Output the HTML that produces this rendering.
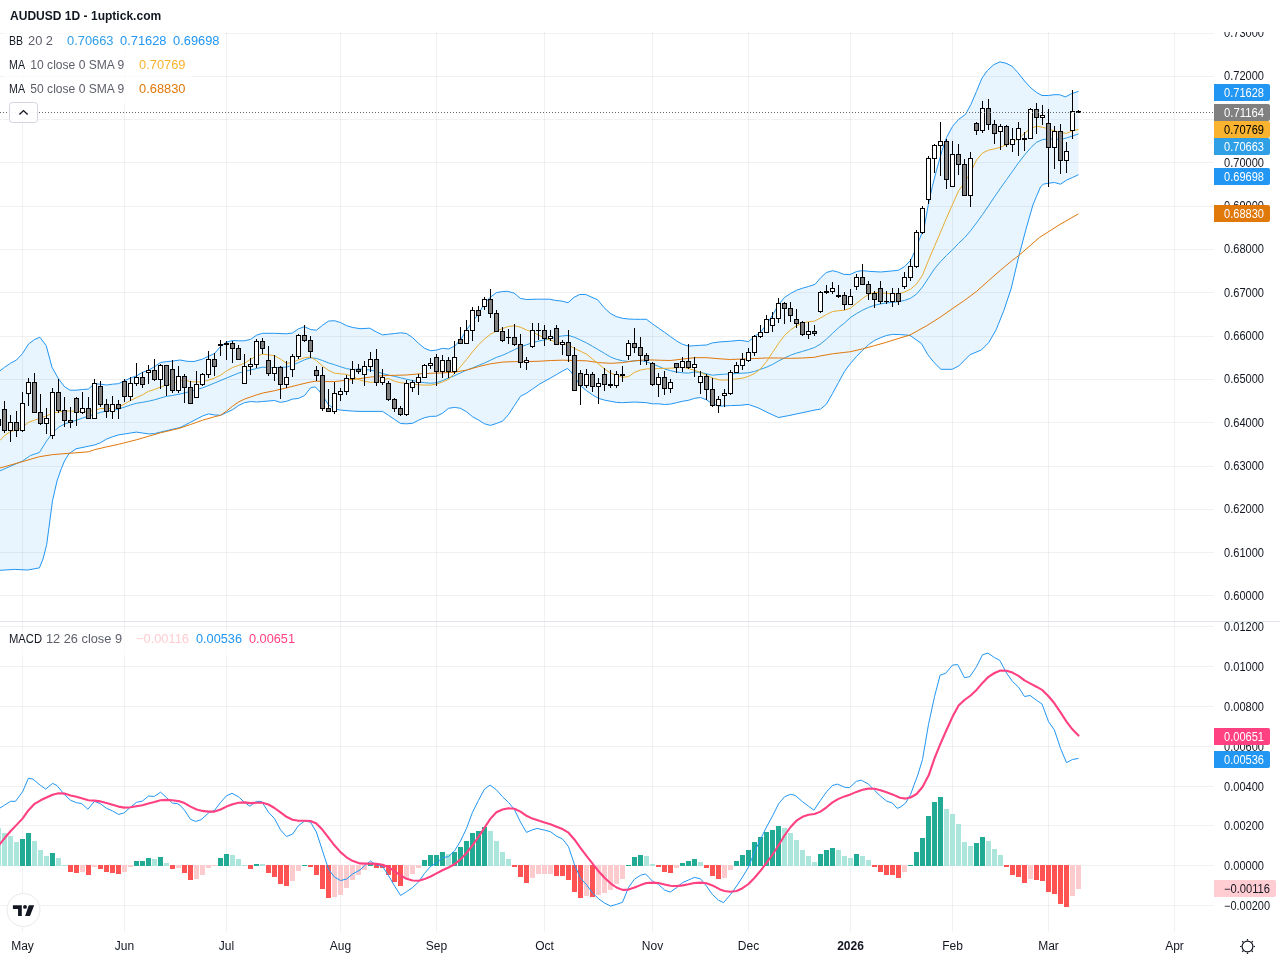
<!DOCTYPE html>
<html lang="en"><head><meta charset="utf-8"><title>AUDUSD 1D - 1uptick.com</title>
<style>html,body{margin:0;padding:0;background:#fff;overflow:hidden}svg{display:block}</style>
</head><body>
<svg width="1280" height="960" viewBox="0 0 1280 960" font-family='"Liberation Sans", sans-serif' font-size="12" fill="#131722">
<rect width="1280" height="960" fill="#fff"/>
<defs><clipPath id="cm"><rect x="0" y="32" width="1214" height="589"/></clipPath><clipPath id="cd"><rect x="0" y="622" width="1214" height="310"/></clipPath><clipPath id="ca"><rect x="1214" y="32" width="66" height="589"/></clipPath><clipPath id="cb"><rect x="1214" y="622" width="66" height="310"/></clipPath></defs>
<path d="M22.5 32V932M124.5 32V932M226.5 32V932M340.5 32V932M436.5 32V932M544.5 32V932M652.5 32V932M748.5 32V932M850.5 32V932M952.5 32V932M1048.5 32V932M1174.5 32V932" stroke="#2a2e39" stroke-opacity="0.065" stroke-width="1" fill="none" shape-rendering="crispEdges"/>
<path d="M0 33.5H1214M0 76.5H1214M0 119.5H1214M0 162.5H1214M0 206.5H1214M0 249.5H1214M0 292.5H1214M0 336.5H1214M0 379.5H1214M0 422.5H1214M0 466.5H1214M0 509.5H1214M0 552.5H1214M0 595.5H1214M0 626.5H1214M0 666.5H1214M0 706.5H1214M0 746.5H1214M0 786.5H1214M0 825.5H1214M0 865.5H1214M0 905.5H1214" stroke="#2a2e39" stroke-opacity="0.065" stroke-width="1" fill="none" shape-rendering="crispEdges"/>
<path d="M0 621.5H1280" stroke="#e0e3eb" stroke-width="1" shape-rendering="crispEdges"/>
<g clip-path="url(#cm)">
<path d="M-1.5 372.0L4.5 367.3L10.5 363.2L16.5 360.0L22.5 353.5L28.5 344.0L34.5 339.6L39.8 337.2L46.2 345.6L52.0 367.3L58.5 378.8L64.7 386.9L70.0 390.2L76.0 390.2L82.5 389.5L88.3 389.1L93.0 385.0L96.6 383.9L100.8 384.2L106.5 385.0L112.5 384.2L118.5 383.7L124.5 380.8L130.5 378.0L136.4 375.9L142.5 372.3L148.5 370.2L154.4 366.7L160.5 362.5L166.5 361.6L172.4 361.1L180.0 360.0L187.0 361.3L194.0 361.5L202.5 359.1L208.5 356.3L214.6 353.4L220.6 346.4L226.5 342.2L232.6 340.5L238.6 340.8L244.5 340.8L250.6 339.4L256.5 335.2L262.5 333.3L274.5 333.3L286.5 333.8L292.5 333.0L298.5 328.8L304.5 326.7L310.5 329.5L316.4 330.2L322.5 325.3L328.5 321.1L334.4 320.7L340.5 322.5L346.5 325.7L352.4 327.4L360.0 328.7L369.8 328.2L376.6 332.1L382.5 334.9L388.5 334.2L394.6 333.5L400.6 332.8L406.5 333.5L412.6 337.7L418.6 343.4L424.5 348.3L430.6 350.7L436.5 350.1L442.5 348.3L448.5 349.0L454.5 346.2L460.5 339.8L466.5 330.0L472.5 321.6L478.5 313.8L484.5 303.3L490.5 297.0L496.4 292.7L502.5 291.5L507.5 291.3L514.1 293.1L520.2 298.3L526.3 299.5L537.5 299.2L549.7 299.2L555.3 300.4L561.9 301.1L568.0 302.7L574.1 297.3L579.7 294.5L585.8 294.5L591.9 297.3L597.5 299.7L604.1 307.7L610.2 313.3L616.3 316.6L622.5 318.3L628.5 319.0L634.5 319.3L640.5 319.3L646.5 319.3L652.5 323.9L658.5 328.1L664.5 332.3L670.5 336.6L676.4 340.8L682.5 344.3L688.5 346.1L694.4 345.7L700.5 345.3L706.5 345.0L712.4 342.9L720.0 341.9L730.5 341.2L740.0 340.3L748.4 341.6L754.6 336.5L760.6 332.0L766.5 324.5L772.6 315.0L778.6 304.5L784.5 297.5L790.6 293.4L796.5 290.3L802.5 288.2L808.5 286.5L815.0 284.4L820.6 277.8L826.3 272.5L832.8 270.7L838.4 272.2L843.5 274.3L849.8 274.6L856.6 271.5L862.5 270.6L868.5 271.3L880.6 272.0L892.6 270.9L898.6 270.2L904.5 266.6L910.6 260.3L914.5 251.9L919.5 239.2L924.4 226.6L928.3 204.5L932.3 186.7L936.6 169.8L942.2 150.2L946.5 137.5L952.6 126.3L958.6 119.4L965.5 114.4L970.9 104.5L976.4 91.6L981.9 78.3L987.3 70.6L993.9 64.6L999.9 61.9L1005.9 63.2L1012.0 66.2L1018.0 72.8L1024.5 81.0L1031.1 88.1L1036.6 92.5L1042.0 95.5L1048.6 95.5L1054.1 94.7L1059.5 94.7L1065.5 96.9L1071.6 93.6L1078.5 91.4L1078.5 174.7L1072.4 177.6L1066.5 180.1L1060.5 184.2L1054.4 182.5L1048.5 183.2L1043.4 184.2L1040.6 186.7L1036.4 196.6L1032.9 205.0L1026.3 228.1L1018.8 256.3L1011.3 288.1L1003.8 310.6L996.3 329.4L988.8 342.5L981.3 350.0L970.0 354.7L958.8 365.9L952.2 369.3L940.9 369.3L934.0 362.5L927.8 354.7L921.3 343.4L910.0 335.4L900.6 334.6L892.4 334.4L886.5 335.5L880.5 337.7L874.4 340.5L868.5 344.7L862.5 350.3L856.4 356.6L850.5 363.4L844.5 371.4L838.5 382.5L832.5 393.5L826.4 404.2L820.6 409.1L815.0 410.0L801.9 412.8L788.8 415.6L778.4 417.5L768.1 412.8L758.8 408.1L748.4 404.4L740.0 405.3L730.5 405.6L720.0 406.1L712.4 404.1L706.5 399.8L700.5 397.5L694.4 398.4L688.5 400.3L682.5 401.3L676.4 402.7L670.5 404.1L664.5 404.5L658.5 403.8L652.5 403.8L646.5 402.7L634.5 402.0L622.5 402.7L616.5 402.4L610.6 401.3L604.5 400.1L598.6 398.4L592.6 394.9L586.5 390.7L580.6 385.8L574.6 377.3L570.9 371.7L567.4 368.5L562.5 371.0L556.6 374.5L550.5 378.0L540.0 383.8L532.4 389.1L526.5 393.1L520.5 396.3L514.4 405.5L508.5 414.6L502.5 421.2L496.4 423.5L490.5 425.4L484.5 423.8L478.5 420.0L472.5 416.7L466.5 411.8L460.5 408.3L454.5 407.4L448.5 408.3L442.5 413.2L436.5 416.2L430.6 416.4L424.5 417.7L418.6 420.2L412.6 423.3L406.5 423.8L400.6 423.5L394.6 419.5L388.5 415.3L382.5 411.4L360.0 411.4L352.4 411.1L340.5 410.1L334.4 409.0L328.5 404.8L322.5 395.6L318.5 390.0L315.0 386.8L310.5 387.9L304.5 395.6L298.5 398.4L292.5 399.1L286.5 401.3L280.5 402.4L274.5 400.5L262.5 401.5L256.5 402.0L250.6 401.5L244.5 402.7L238.6 405.5L232.6 409.7L226.5 412.5L220.6 415.3L214.6 415.0L208.5 413.9L202.5 416.0L190.5 422.3L180.0 427.6L172.4 429.3L166.5 430.7L160.5 432.1L154.5 433.6L148.5 433.9L142.5 433.0L136.4 432.1L130.5 433.0L124.5 434.0L118.5 434.9L112.5 436.8L106.5 439.1L100.5 442.7L94.5 445.0L88.6 446.2L76.0 448.8L68.9 453.8L64.5 461.0L61.3 468.8L57.0 481.0L52.5 500.8L46.7 544.6L43.0 559.0L39.4 567.9L27.7 570.0L14.6 569.4L0.0 570.3L-3.0 570.4Z" fill="#2196f3" fill-opacity="0.1" stroke="none"/>
<path d="M-1.5 372.0L4.5 367.3L10.5 363.2L16.5 360.0L22.5 353.5L28.5 344.0L34.5 339.6L39.8 337.2L46.2 345.6L52.0 367.3L58.5 378.8L64.7 386.9L70.0 390.2L76.0 390.2L82.5 389.5L88.3 389.1L93.0 385.0L96.6 383.9L100.8 384.2L106.5 385.0L112.5 384.2L118.5 383.7L124.5 380.8L130.5 378.0L136.4 375.9L142.5 372.3L148.5 370.2L154.4 366.7L160.5 362.5L166.5 361.6L172.4 361.1L180.0 360.0L187.0 361.3L194.0 361.5L202.5 359.1L208.5 356.3L214.6 353.4L220.6 346.4L226.5 342.2L232.6 340.5L238.6 340.8L244.5 340.8L250.6 339.4L256.5 335.2L262.5 333.3L274.5 333.3L286.5 333.8L292.5 333.0L298.5 328.8L304.5 326.7L310.5 329.5L316.4 330.2L322.5 325.3L328.5 321.1L334.4 320.7L340.5 322.5L346.5 325.7L352.4 327.4L360.0 328.7L369.8 328.2L376.6 332.1L382.5 334.9L388.5 334.2L394.6 333.5L400.6 332.8L406.5 333.5L412.6 337.7L418.6 343.4L424.5 348.3L430.6 350.7L436.5 350.1L442.5 348.3L448.5 349.0L454.5 346.2L460.5 339.8L466.5 330.0L472.5 321.6L478.5 313.8L484.5 303.3L490.5 297.0L496.4 292.7L502.5 291.5L507.5 291.3L514.1 293.1L520.2 298.3L526.3 299.5L537.5 299.2L549.7 299.2L555.3 300.4L561.9 301.1L568.0 302.7L574.1 297.3L579.7 294.5L585.8 294.5L591.9 297.3L597.5 299.7L604.1 307.7L610.2 313.3L616.3 316.6L622.5 318.3L628.5 319.0L634.5 319.3L640.5 319.3L646.5 319.3L652.5 323.9L658.5 328.1L664.5 332.3L670.5 336.6L676.4 340.8L682.5 344.3L688.5 346.1L694.4 345.7L700.5 345.3L706.5 345.0L712.4 342.9L720.0 341.9L730.5 341.2L740.0 340.3L748.4 341.6L754.6 336.5L760.6 332.0L766.5 324.5L772.6 315.0L778.6 304.5L784.5 297.5L790.6 293.4L796.5 290.3L802.5 288.2L808.5 286.5L815.0 284.4L820.6 277.8L826.3 272.5L832.8 270.7L838.4 272.2L843.5 274.3L849.8 274.6L856.6 271.5L862.5 270.6L868.5 271.3L880.6 272.0L892.6 270.9L898.6 270.2L904.5 266.6L910.6 260.3L914.5 251.9L919.5 239.2L924.4 226.6L928.3 204.5L932.3 186.7L936.6 169.8L942.2 150.2L946.5 137.5L952.6 126.3L958.6 119.4L965.5 114.4L970.9 104.5L976.4 91.6L981.9 78.3L987.3 70.6L993.9 64.6L999.9 61.9L1005.9 63.2L1012.0 66.2L1018.0 72.8L1024.5 81.0L1031.1 88.1L1036.6 92.5L1042.0 95.5L1048.6 95.5L1054.1 94.7L1059.5 94.7L1065.5 96.9L1071.6 93.6L1078.5 91.4" fill="none" stroke="#2196f3" stroke-width="1" stroke-linejoin="round"/>
<path d="M-3.0 570.4L0.0 570.3L14.6 569.4L27.7 570.0L39.4 567.9L43.0 559.0L46.7 544.6L52.5 500.8L57.0 481.0L61.3 468.8L64.5 461.0L68.9 453.8L76.0 448.8L88.6 446.2L94.5 445.0L100.5 442.7L106.5 439.1L112.5 436.8L118.5 434.9L124.5 434.0L130.5 433.0L136.4 432.1L142.5 433.0L148.5 433.9L154.5 433.6L160.5 432.1L166.5 430.7L172.4 429.3L180.0 427.6L190.5 422.3L202.5 416.0L208.5 413.9L214.6 415.0L220.6 415.3L226.5 412.5L232.6 409.7L238.6 405.5L244.5 402.7L250.6 401.5L256.5 402.0L262.5 401.5L274.5 400.5L280.5 402.4L286.5 401.3L292.5 399.1L298.5 398.4L304.5 395.6L310.5 387.9L315.0 386.8L318.5 390.0L322.5 395.6L328.5 404.8L334.4 409.0L340.5 410.1L352.4 411.1L360.0 411.4L382.5 411.4L388.5 415.3L394.6 419.5L400.6 423.5L406.5 423.8L412.6 423.3L418.6 420.2L424.5 417.7L430.6 416.4L436.5 416.2L442.5 413.2L448.5 408.3L454.5 407.4L460.5 408.3L466.5 411.8L472.5 416.7L478.5 420.0L484.5 423.8L490.5 425.4L496.4 423.5L502.5 421.2L508.5 414.6L514.4 405.5L520.5 396.3L526.5 393.1L532.4 389.1L540.0 383.8L550.5 378.0L556.6 374.5L562.5 371.0L567.4 368.5L570.9 371.7L574.6 377.3L580.6 385.8L586.5 390.7L592.6 394.9L598.6 398.4L604.5 400.1L610.6 401.3L616.5 402.4L622.5 402.7L634.5 402.0L646.5 402.7L652.5 403.8L658.5 403.8L664.5 404.5L670.5 404.1L676.4 402.7L682.5 401.3L688.5 400.3L694.4 398.4L700.5 397.5L706.5 399.8L712.4 404.1L720.0 406.1L730.5 405.6L740.0 405.3L748.4 404.4L758.8 408.1L768.1 412.8L778.4 417.5L788.8 415.6L801.9 412.8L815.0 410.0L820.6 409.1L826.4 404.2L832.5 393.5L838.5 382.5L844.5 371.4L850.5 363.4L856.4 356.6L862.5 350.3L868.5 344.7L874.4 340.5L880.5 337.7L886.5 335.5L892.4 334.4L900.6 334.6L910.0 335.4L921.3 343.4L927.8 354.7L934.0 362.5L940.9 369.3L952.2 369.3L958.8 365.9L970.0 354.7L981.3 350.0L988.8 342.5L996.3 329.4L1003.8 310.6L1011.3 288.1L1018.8 256.3L1026.3 228.1L1032.9 205.0L1036.4 196.6L1040.6 186.7L1043.4 184.2L1048.5 183.2L1054.4 182.5L1060.5 184.2L1066.5 180.1L1072.4 177.6L1078.5 174.7" fill="none" stroke="#2196f3" stroke-width="1" stroke-linejoin="round"/>
<path d="M-3.0 472.0L0.0 470.8L22.5 461.0L30.5 455.5L39.4 452.5L46.4 441.3L52.7 432.8L58.6 427.2L64.7 424.0L70.5 422.0L76.5 420.2L82.5 418.0L88.5 416.0L94.5 414.2L100.5 412.4L106.5 411.0L112.5 410.3L118.5 409.0L124.5 407.1L130.5 405.0L136.4 403.3L142.5 402.3L148.5 401.2L154.5 399.8L160.5 398.0L166.5 396.3L172.4 395.5L180.0 394.0L190.5 391.4L202.5 387.9L214.6 383.0L226.5 378.0L238.6 373.1L244.5 371.4L256.5 368.5L262.5 367.2L268.5 367.5L274.5 367.8L280.5 367.2L286.5 367.2L292.5 365.0L298.5 362.6L304.5 359.8L310.5 357.9L316.4 358.4L322.5 360.5L328.5 362.9L334.4 364.7L340.5 366.8L346.5 368.6L352.4 369.6L360.0 369.0L370.5 370.1L376.6 371.5L382.5 373.6L388.5 375.0L394.6 376.4L400.6 377.8L406.5 379.2L412.6 380.6L418.6 381.8L424.5 382.7L430.6 383.2L436.5 382.7L442.5 380.6L448.5 378.1L454.5 375.7L460.5 372.9L466.5 370.1L472.5 368.0L478.5 365.4L484.5 363.0L490.5 360.2L496.4 357.4L502.5 355.3L508.5 352.5L514.4 349.7L520.5 346.9L526.5 344.8L532.4 342.7L540.0 340.8L550.5 338.7L556.6 336.8L562.5 335.9L568.5 335.4L574.6 337.3L580.6 340.1L586.5 342.9L592.6 346.4L598.6 349.9L604.5 353.4L610.6 357.0L616.5 359.3L622.5 360.8L628.5 361.5L634.5 360.8L640.5 360.5L646.5 361.9L652.5 364.0L658.5 366.4L664.5 368.9L670.5 370.7L676.4 372.0L682.5 372.8L688.5 373.1L694.4 372.0L700.5 372.4L706.5 373.8L712.4 375.2L720.0 374.5L724.5 374.2L736.6 373.5L748.5 372.8L754.6 371.4L760.6 369.3L766.5 367.2L772.6 364.4L778.6 360.9L784.5 358.0L790.6 355.2L796.5 353.1L802.5 351.4L808.5 349.6L814.5 347.5L820.5 344.0L826.5 339.1L832.5 333.4L838.5 327.8L844.5 322.9L850.5 317.5L856.6 313.6L862.5 310.2L868.5 307.4L874.6 305.3L880.6 303.9L886.5 302.9L892.6 302.4L898.6 301.6L904.5 300.4L910.6 298.3L916.5 294.1L922.5 287.0L928.5 277.9L934.5 268.8L940.5 261.7L946.5 255.4L952.5 249.8L958.5 243.4L964.5 237.8L970.5 230.8L976.4 223.0L982.5 214.6L988.5 205.8L994.5 196.8L1000.5 188.1L1006.5 179.7L1012.5 171.3L1018.5 162.8L1024.5 155.1L1030.5 148.0L1036.4 142.4L1042.5 139.6L1048.5 138.9L1054.4 138.9L1060.5 139.6L1066.5 137.9L1072.4 136.1L1078.5 133.9" fill="none" stroke="#2f9fe6" stroke-width="1" stroke-linejoin="round"/>
<path d="M-3.0 468.8L0.0 468.0L22.5 461.6L39.4 456.7L52.7 454.6L70.3 453.2L88.5 451.8L94.5 449.7L106.5 446.9L118.5 444.3L136.4 439.8L148.5 436.3L160.5 432.8L172.4 430.0L180.0 428.1L190.5 424.5L202.5 420.2L214.6 416.7L220.6 415.3L226.5 411.1L232.6 406.2L238.6 402.0L244.5 399.1L250.6 397.0L256.5 394.9L262.5 393.1L274.5 390.7L286.5 387.9L298.5 384.8L310.5 382.0L316.4 381.1L322.5 381.6L334.4 381.6L340.5 380.9L346.5 380.2L352.4 379.5L360.0 378.6L370.5 377.1L382.5 375.7L394.6 375.3L406.5 375.0L418.6 373.9L430.6 373.3L442.5 372.9L454.5 372.2L466.5 370.1L478.5 366.6L490.5 363.8L502.5 362.1L514.4 361.6L526.5 361.6L540.0 361.2L550.5 360.5L562.5 360.2L574.6 360.5L586.5 360.8L598.6 362.6L610.6 363.3L622.5 362.6L634.5 360.8L646.5 359.8L658.5 360.2L670.5 360.5L682.5 359.1L694.4 357.7L706.5 357.7L720.0 358.8L730.5 359.5L742.5 359.0L754.6 358.5L766.5 358.0L778.6 358.0L790.6 358.3L802.5 358.0L814.5 357.3L820.5 355.9L832.5 353.8L844.5 352.4L850.5 351.7L862.5 348.9L874.4 345.7L886.5 342.2L900.0 338.0L910.0 335.0L926.9 325.6L940.5 317.0L952.2 308.8L964.5 300.4L976.4 291.5L988.5 280.7L1000.5 270.2L1012.4 260.3L1018.8 255.5L1039.4 237.5L1060.0 224.4L1078.5 213.8" fill="none" stroke="#e0780a" stroke-width="1" stroke-linejoin="round"/>
<path d="M-3.0 443.0L0.0 440.5L4.5 435.6L10.5 431.4L16.6 430.0L22.5 427.2L28.5 422.3L34.6 420.2L40.6 418.0L46.5 415.9L52.6 413.1L58.6 412.0L64.5 411.0L70.5 411.0L76.5 411.4L82.5 411.6L88.5 411.7L94.5 410.3L100.5 408.5L106.5 408.5L112.5 408.5L118.5 407.5L124.5 404.0L130.5 400.5L136.4 397.7L142.5 394.8L148.5 391.3L154.5 389.5L160.5 387.1L166.5 385.0L172.4 383.6L180.0 380.8L184.5 380.2L190.5 381.6L196.6 382.0L202.5 381.6L208.5 380.2L214.6 378.0L220.6 375.2L226.5 371.0L232.6 367.5L238.6 365.4L244.5 363.3L250.6 359.1L256.5 356.3L262.5 354.1L268.5 354.8L274.5 355.8L280.5 359.1L286.5 363.3L292.5 362.6L298.5 359.8L304.5 357.7L310.5 357.0L316.4 360.5L322.5 366.1L328.5 370.3L334.4 373.1L340.5 373.8L346.5 374.3L352.4 376.6L360.0 380.0L364.5 381.3L370.5 382.3L376.6 382.0L382.5 379.9L388.5 378.5L394.6 381.3L400.6 382.7L406.5 383.4L412.6 384.1L418.6 384.8L424.5 385.1L430.6 385.1L436.5 384.1L442.5 382.0L448.5 379.2L454.5 373.6L460.5 366.6L466.5 359.5L472.5 351.8L478.5 344.8L484.5 339.1L490.5 334.2L496.4 331.1L502.5 328.6L508.5 326.5L514.4 325.8L520.5 327.2L526.5 330.0L532.4 332.1L540.0 335.8L544.5 338.0L550.5 340.1L556.6 342.2L562.5 343.6L568.5 345.0L574.6 348.5L580.6 351.3L586.5 354.1L592.6 359.1L598.6 364.0L604.5 368.9L610.6 373.1L616.5 375.2L622.5 377.3L628.5 376.6L634.5 372.4L640.5 370.0L646.5 368.9L652.5 368.9L658.5 368.5L664.5 368.4L670.5 368.2L676.4 367.8L682.5 367.2L688.5 368.5L694.4 370.3L700.5 372.4L706.5 375.2L712.4 378.0L720.0 380.0L724.5 380.1L730.5 379.6L736.6 378.9L742.5 378.2L748.5 376.3L754.6 373.5L760.6 368.6L766.5 361.6L772.6 352.4L778.6 343.3L784.5 335.5L790.6 329.9L796.5 325.7L802.5 322.9L808.5 321.8L814.5 321.1L820.5 318.0L826.5 314.5L832.5 311.6L838.5 310.7L844.5 310.2L850.5 308.1L856.5 303.2L862.5 298.6L868.5 294.4L874.5 292.4L880.5 292.7L886.5 293.4L892.5 293.7L898.6 293.8L904.5 292.0L910.6 289.1L916.5 284.2L922.5 275.1L928.5 260.3L934.5 246.3L940.5 232.2L946.5 218.1L952.3 204.9L958.6 190.9L964.5 182.5L970.6 172.7L976.5 160.0L982.5 153.0L988.5 150.2L994.5 148.8L1000.5 147.3L1006.5 144.5L1012.5 141.7L1018.5 138.9L1024.5 133.3L1030.5 128.4L1036.4 126.3L1042.5 127.2L1048.5 129.1L1054.4 130.8L1060.5 132.6L1066.5 133.3L1072.4 130.8L1078.5 129.5" fill="none" stroke="#e9ae30" stroke-width="1" stroke-linejoin="round"/>
<path d="M-1.5 405V430M4.5 401V433M10.5 415V442M16.5 411V437M22.5 392V432M28.5 378V406M34.5 373V413M40.5 394V425M46.5 408V434M52.5 388V439M58.5 379V413M64.5 397V427M70.5 407V428M76.5 397V426M82.5 392V414M88.5 397V419M94.5 379V419M100.5 381V407M106.5 399V418M112.5 396V419M118.5 400V419M124.5 379V402M130.5 377V401M136.5 363V386M142.5 372V388M148.5 365V384M154.5 359V381M160.5 364V389M166.5 365V396M172.5 360V393M178.5 366V393M184.5 374V403M190.5 381V404M196.5 371V398M202.5 373V386M208.5 351V378M214.5 353V376M220.5 340V356M226.5 341V360M232.5 341V363M238.5 345V360M244.5 354V384M250.5 358V375M256.5 339V368M262.5 338V354M268.5 346V376M274.5 355V381M280.5 366V399M286.5 361V388M292.5 354V377M298.5 334V359M304.5 325V342M310.5 336V358M316.5 366V381M322.5 367V411M328.5 389V412M334.5 382V414M340.5 388V401M346.5 375V395M352.5 361V384M358.5 364V374M364.5 361V386M370.5 352V372M376.5 349V386M382.5 369V385M388.5 381V401M394.5 398V412M400.5 406V416M406.5 380V416M412.5 380V392M418.5 374V395M424.5 364V378M430.5 358V369M436.5 354V386M442.5 355V378M448.5 357V378M454.5 341V374M460.5 327V344M466.5 320V344M472.5 307V341M478.5 306V322M484.5 297V310M490.5 289V318M496.5 310V332M502.5 327V342M508.5 329V344M514.5 324V346M520.5 334V368M526.5 357V370M532.5 323V348M538.5 323V340M544.5 325V346M550.5 330V341M556.5 325V345M562.5 340V355M568.5 330V362M574.5 347V391M580.5 370V405M586.5 369V388M592.5 372V392M598.5 378V404M604.5 368V391M610.5 370V388M616.5 371V388M622.5 366V382M628.5 340V360M634.5 328V353M640.5 337V365M646.5 353V365M652.5 362V386M658.5 373V397M664.5 371V395M670.5 379V393M676.5 363V373M682.5 357V372M688.5 344V369M694.5 357V377M700.5 371V394M706.5 374V400M712.5 378V407M718.5 396V413M724.5 389V407M730.5 370V395M736.5 362V373M742.5 353V370M748.5 348V362M754.5 335V356M760.5 325V338M766.5 315V333M772.5 312V332M778.5 298V323M784.5 302V324M790.5 302V322M796.5 309V328M802.5 321V336M808.5 322V339M814.5 325V336M820.5 291V313M826.5 285V294M832.5 282V294M838.5 285V298M844.5 292V310M850.5 289V305M856.5 274V290M862.5 264V285M868.5 281V300M874.5 291V308M880.5 281V304M886.5 291V304M892.5 288V307M898.5 288V305M904.5 272V289M910.5 259V281M916.5 230V268M922.5 206V234M928.5 156V204M934.5 144V173M940.5 122V176M946.5 139V189M952.5 141V187M958.5 144V175M964.5 159V196M970.5 152V207M976.5 122V135M982.5 101V133M988.5 99V130M994.5 120V144M1000.5 124V150M1006.5 125V147M1012.5 128V152M1018.5 122V156M1024.5 132V151M1030.5 108V139M1036.5 103V134M1042.5 105V125M1048.5 109V187M1054.5 126V169M1060.5 124V174M1066.5 142V173M1072.5 90V139M1078.5 110V113" stroke="#000" stroke-width="1" fill="none"/>
<path d="M-4.0 419h5v7h-5zM2.0 409h5v22h-5zM8.0 422h5v9h-5zM14.0 422h5v9h-5zM20.0 403h5v28h-5zM26.0 382h5v12h-5zM32.0 382h5v31h-5zM38.0 412h5v12h-5zM44.0 418h5v6h-5zM50.0 392h5v44h-5zM56.0 392h5v19h-5zM62.0 410h5v11h-5zM68.0 420h5v3h-5zM74.0 398h5v15h-5zM80.0 408h5v5h-5zM86.0 408h5v11h-5zM92.0 383h5v36h-5zM98.0 386h5v19h-5zM104.0 404h5v8h-5zM110.0 404h5v8h-5zM116.0 404h5v5h-5zM122.0 381h5v16h-5zM128.0 383h5v14h-5zM134.0 377h5v7h-5zM140.0 377h5v8h-5zM146.0 370h5v3h-5zM152.0 370h5v10h-5zM158.0 365h5v15h-5zM164.0 365h5v21h-5zM170.0 369h5v22h-5zM176.0 376h5v15h-5zM182.0 376h5v12h-5zM188.0 387h5v17h-5zM194.0 384h5v14h-5zM200.0 374h5v11h-5zM206.0 359h5v16h-5zM212.0 359h5v8h-5zM218.0 344h5v2h-5zM224.0 343h5v2h-5zM230.0 343h5v6h-5zM236.0 348h5v12h-5zM242.0 366h5v18h-5zM248.0 364h5v3h-5zM254.0 341h5v24h-5zM260.0 341h5v8h-5zM266.0 360h5v14h-5zM272.0 367h5v7h-5zM278.0 367h5v18h-5zM284.0 377h5v8h-5zM290.0 356h5v14h-5zM296.0 335h5v22h-5zM302.0 335h5v6h-5zM308.0 340h5v12h-5zM314.0 370h5v6h-5zM320.0 375h5v34h-5zM326.0 408h5v4h-5zM332.0 393h5v19h-5zM338.0 391h5v4h-5zM344.0 378h5v14h-5zM350.0 369h5v10h-5zM356.0 369h5v3h-5zM362.0 366h5v9h-5zM368.0 359h5v8h-5zM374.0 359h5v24h-5zM380.0 377h5v6h-5zM386.0 383h5v17h-5zM392.0 399h5v10h-5zM398.0 408h5v7h-5zM404.0 383h5v32h-5zM410.0 382h5v6h-5zM416.0 377h5v6h-5zM422.0 365h5v13h-5zM428.0 363h5v3h-5zM434.0 357h5v15h-5zM440.0 360h5v12h-5zM446.0 360h5v12h-5zM452.0 357h5v15h-5zM458.0 339h5v5h-5zM464.0 330h5v14h-5zM470.0 310h5v21h-5zM476.0 310h5v6h-5zM482.0 299h5v8h-5zM488.0 299h5v15h-5zM494.0 313h5v19h-5zM500.0 331h5v10h-5zM506.0 337h5v1h-5zM512.0 337h5v8h-5zM518.0 344h5v19h-5zM524.0 360h5v3h-5zM530.0 330h5v17h-5zM536.0 330h5v1h-5zM542.0 330h5v9h-5zM548.0 336h5v3h-5zM554.0 328h5v17h-5zM560.0 342h5v3h-5zM566.0 342h5v14h-5zM572.0 355h5v36h-5zM578.0 373h5v13h-5zM584.0 374h5v12h-5zM590.0 374h5v13h-5zM596.0 383h5v4h-5zM602.0 374h5v11h-5zM608.0 384h5v2h-5zM614.0 374h5v12h-5zM620.0 374h5v2h-5zM626.0 343h5v13h-5zM632.0 343h5v5h-5zM638.0 347h5v9h-5zM644.0 355h5v6h-5zM650.0 363h5v22h-5zM656.0 377h5v8h-5zM662.0 377h5v12h-5zM668.0 382h5v7h-5zM674.0 363h5v5h-5zM680.0 361h5v7h-5zM686.0 361h5v7h-5zM692.0 364h5v4h-5zM698.0 376h5v7h-5zM704.0 376h5v14h-5zM710.0 389h5v17h-5zM716.0 399h5v7h-5zM722.0 393h5v3h-5zM728.0 372h5v22h-5zM734.0 365h5v8h-5zM740.0 359h5v7h-5zM746.0 352h5v9h-5zM752.0 336h5v17h-5zM758.0 332h5v5h-5zM764.0 319h5v14h-5zM770.0 318h5v8h-5zM776.0 303h5v16h-5zM782.0 303h5v6h-5zM788.0 308h5v8h-5zM794.0 319h5v5h-5zM800.0 322h5v13h-5zM806.0 331h5v4h-5zM812.0 331h5v3h-5zM818.0 292h5v20h-5zM824.0 291h5v2h-5zM830.0 288h5v4h-5zM836.0 295h5v2h-5zM842.0 295h5v10h-5zM848.0 296h5v9h-5zM854.0 277h5v10h-5zM860.0 277h5v8h-5zM866.0 284h5v10h-5zM872.0 293h5v7h-5zM878.0 288h5v14h-5zM884.0 301h5v1h-5zM890.0 293h5v9h-5zM896.0 293h5v9h-5zM902.0 277h5v10h-5zM908.0 266h5v12h-5zM914.0 232h5v35h-5zM920.0 208h5v25h-5zM926.0 158h5v42h-5zM932.0 145h5v14h-5zM938.0 141h5v5h-5zM944.0 141h5v39h-5zM950.0 154h5v33h-5zM956.0 154h5v11h-5zM962.0 164h5v32h-5zM968.0 158h5v38h-5zM974.0 123h5v8h-5zM980.0 108h5v23h-5zM986.0 108h5v17h-5zM992.0 124h5v10h-5zM998.0 126h5v6h-5zM1004.0 126h5v19h-5zM1010.0 139h5v6h-5zM1016.0 128h5v12h-5zM1022.0 138h5v2h-5zM1028.0 109h5v30h-5zM1034.0 109h5v9h-5zM1040.0 115h5v3h-5zM1046.0 123h5v25h-5zM1052.0 131h5v17h-5zM1058.0 131h5v30h-5zM1064.0 151h5v10h-5zM1070.0 111h5v20h-5zM1076.0 111h5v2h-5z" stroke="none" fill="#000"/>
<path d="M9.0 423h3v7h-3zM21.0 404h3v26h-3zM27.0 383h3v10h-3zM45.0 419h3v4h-3zM51.0 393h3v42h-3zM81.0 409h3v3h-3zM93.0 384h3v34h-3zM111.0 405h3v6h-3zM129.0 384h3v12h-3zM135.0 378h3v5h-3zM147.0 371h3v1h-3zM159.0 366h3v13h-3zM177.0 377h3v13h-3zM195.0 385h3v12h-3zM201.0 375h3v9h-3zM207.0 360h3v14h-3zM243.0 367h3v16h-3zM249.0 365h3v1h-3zM255.0 342h3v22h-3zM273.0 368h3v5h-3zM285.0 378h3v6h-3zM291.0 357h3v12h-3zM297.0 336h3v20h-3zM333.0 394h3v17h-3zM339.0 392h3v2h-3zM345.0 379h3v12h-3zM351.0 370h3v8h-3zM363.0 367h3v7h-3zM369.0 360h3v6h-3zM381.0 378h3v4h-3zM405.0 384h3v30h-3zM411.0 383h3v4h-3zM417.0 378h3v4h-3zM423.0 366h3v11h-3zM429.0 364h3v1h-3zM441.0 361h3v10h-3zM453.0 358h3v13h-3zM465.0 331h3v12h-3zM471.0 311h3v19h-3zM483.0 300h3v6h-3zM525.0 361h3v1h-3zM531.0 331h3v15h-3zM549.0 337h3v1h-3zM561.0 343h3v1h-3zM585.0 375h3v10h-3zM597.0 384h3v2h-3zM615.0 375h3v10h-3zM627.0 344h3v11h-3zM657.0 378h3v6h-3zM669.0 383h3v5h-3zM681.0 362h3v5h-3zM693.0 365h3v2h-3zM699.0 377h3v5h-3zM717.0 400h3v5h-3zM723.0 394h3v1h-3zM729.0 373h3v20h-3zM735.0 366h3v6h-3zM741.0 360h3v5h-3zM747.0 353h3v7h-3zM753.0 337h3v15h-3zM759.0 333h3v3h-3zM765.0 320h3v12h-3zM771.0 319h3v6h-3zM777.0 304h3v14h-3zM807.0 332h3v2h-3zM819.0 293h3v18h-3zM831.0 289h3v2h-3zM849.0 297h3v7h-3zM855.0 278h3v8h-3zM891.0 294h3v7h-3zM903.0 278h3v8h-3zM909.0 267h3v10h-3zM915.0 233h3v33h-3zM921.0 209h3v23h-3zM927.0 159h3v40h-3zM933.0 146h3v12h-3zM939.0 142h3v3h-3zM951.0 155h3v31h-3zM969.0 159h3v36h-3zM981.0 109h3v21h-3zM999.0 127h3v4h-3zM1011.0 140h3v4h-3zM1017.0 129h3v10h-3zM1029.0 110h3v28h-3zM1041.0 116h3v1h-3zM1053.0 132h3v15h-3zM1065.0 152h3v8h-3zM1071.0 112h3v18h-3z" stroke="none" fill="#fff"/>
<path d="M-3.0 420h3v5h-3zM3.0 410h3v20h-3zM15.0 423h3v7h-3zM33.0 383h3v29h-3zM39.0 413h3v10h-3zM57.0 393h3v17h-3zM63.0 411h3v9h-3zM69.0 421h3v1h-3zM75.0 399h3v13h-3zM87.0 409h3v9h-3zM99.0 387h3v17h-3zM105.0 405h3v6h-3zM117.0 405h3v3h-3zM123.0 382h3v14h-3zM141.0 378h3v6h-3zM153.0 371h3v8h-3zM165.0 366h3v19h-3zM171.0 370h3v20h-3zM183.0 377h3v10h-3zM189.0 388h3v15h-3zM213.0 360h3v6h-3zM231.0 344h3v4h-3zM237.0 349h3v10h-3zM261.0 342h3v6h-3zM267.0 361h3v12h-3zM279.0 368h3v16h-3zM303.0 336h3v4h-3zM309.0 341h3v10h-3zM315.0 371h3v4h-3zM321.0 376h3v32h-3zM327.0 409h3v2h-3zM357.0 370h3v1h-3zM375.0 360h3v22h-3zM387.0 384h3v15h-3zM393.0 400h3v8h-3zM399.0 409h3v5h-3zM435.0 358h3v13h-3zM447.0 361h3v10h-3zM459.0 340h3v3h-3zM477.0 311h3v4h-3zM489.0 300h3v13h-3zM495.0 314h3v17h-3zM501.0 332h3v8h-3zM513.0 338h3v6h-3zM519.0 345h3v17h-3zM543.0 331h3v7h-3zM555.0 329h3v15h-3zM567.0 343h3v12h-3zM573.0 356h3v34h-3zM579.0 374h3v11h-3zM591.0 375h3v11h-3zM603.0 375h3v9h-3zM633.0 344h3v3h-3zM639.0 348h3v7h-3zM645.0 356h3v4h-3zM651.0 364h3v20h-3zM663.0 378h3v10h-3zM675.0 364h3v3h-3zM687.0 362h3v5h-3zM705.0 377h3v12h-3zM711.0 390h3v15h-3zM783.0 304h3v4h-3zM789.0 309h3v6h-3zM795.0 320h3v3h-3zM801.0 323h3v11h-3zM813.0 332h3v1h-3zM843.0 296h3v8h-3zM861.0 278h3v6h-3zM867.0 285h3v8h-3zM873.0 294h3v5h-3zM879.0 289h3v12h-3zM897.0 294h3v7h-3zM945.0 142h3v37h-3zM957.0 155h3v9h-3zM963.0 165h3v30h-3zM975.0 124h3v6h-3zM987.0 109h3v15h-3zM993.0 125h3v8h-3zM1005.0 127h3v17h-3zM1035.0 110h3v7h-3zM1047.0 124h3v23h-3zM1059.0 132h3v28h-3z" stroke="none" fill="#808080"/>
</g>
<g clip-path="url(#cd)">
<path d="M20.0 839h5v27h-5zM26.0 833h5v33h-5zM50.0 853h5v13h-5zM134.0 861h5v5h-5zM140.0 861h5v5h-5zM146.0 858h5v8h-5zM158.0 857h5v9h-5zM218.0 858h5v8h-5zM224.0 854h5v12h-5zM254.0 864h5v2h-5zM302.0 865h5v1h-5zM368.0 864h5v2h-5zM422.0 860h5v6h-5zM428.0 855h5v11h-5zM434.0 855h5v11h-5zM440.0 852h5v14h-5zM452.0 852h5v14h-5zM458.0 847h5v19h-5zM464.0 841h5v25h-5zM470.0 833h5v33h-5zM476.0 831h5v35h-5zM482.0 827h5v39h-5zM626.0 865h5v1h-5zM632.0 857h5v9h-5zM638.0 855h5v11h-5zM680.0 863h5v3h-5zM686.0 861h5v5h-5zM692.0 859h5v7h-5zM734.0 861h5v5h-5zM740.0 855h5v11h-5zM746.0 850h5v16h-5zM752.0 842h5v24h-5zM758.0 837h5v29h-5zM764.0 832h5v34h-5zM770.0 830h5v36h-5zM776.0 826h5v40h-5zM818.0 854h5v12h-5zM824.0 850h5v16h-5zM830.0 848h5v18h-5zM854.0 854h5v12h-5zM908.0 865h5v1h-5zM914.0 852h5v14h-5zM920.0 838h5v28h-5zM926.0 816h5v50h-5zM932.0 802h5v64h-5zM938.0 797h5v69h-5zM974.0 843h5v23h-5zM980.0 837h5v29h-5z" fill="#22ab94" shape-rendering="crispEdges"/>
<path d="M-4.0 828h5v38h-5zM2.0 833h5v33h-5zM8.0 836h5v30h-5zM14.0 842h5v24h-5zM32.0 841h5v25h-5zM38.0 850h5v16h-5zM44.0 856h5v10h-5zM56.0 858h5v8h-5zM62.0 865h5v1h-5zM152.0 859h5v7h-5zM164.0 863h5v3h-5zM230.0 855h5v11h-5zM236.0 859h5v7h-5zM242.0 865h5v1h-5zM260.0 864h5v2h-5zM446.0 854h5v12h-5zM488.0 831h5v35h-5zM494.0 841h5v25h-5zM500.0 852h5v14h-5zM506.0 859h5v7h-5zM644.0 856h5v10h-5zM650.0 864h5v2h-5zM698.0 862h5v4h-5zM782.0 828h5v38h-5zM788.0 833h5v33h-5zM794.0 840h5v26h-5zM800.0 850h5v16h-5zM806.0 856h5v10h-5zM812.0 862h5v4h-5zM836.0 850h5v16h-5zM842.0 856h5v10h-5zM848.0 858h5v8h-5zM860.0 856h5v10h-5zM866.0 860h5v6h-5zM944.0 809h5v57h-5zM950.0 814h5v52h-5zM956.0 824h5v42h-5zM962.0 842h5v24h-5zM968.0 846h5v20h-5zM986.0 841h5v25h-5zM992.0 849h5v17h-5zM998.0 855h5v11h-5z" fill="#ace5dc" shape-rendering="crispEdges"/>
<path d="M68.0 865h5v7h-5zM74.0 865h5v8h-5zM86.0 865h5v10h-5zM98.0 865h5v4h-5zM104.0 865h5v7h-5zM110.0 865h5v8h-5zM116.0 865h5v9h-5zM170.0 865h5v4h-5zM182.0 865h5v8h-5zM188.0 865h5v15h-5zM248.0 865h5v4h-5zM266.0 865h5v8h-5zM272.0 865h5v12h-5zM278.0 865h5v19h-5zM284.0 865h5v21h-5zM308.0 865h5v2h-5zM314.0 865h5v10h-5zM320.0 865h5v24h-5zM326.0 865h5v33h-5zM374.0 865h5v3h-5zM380.0 865h5v3h-5zM386.0 865h5v10h-5zM392.0 865h5v17h-5zM398.0 865h5v21h-5zM512.0 865h5v2h-5zM518.0 865h5v12h-5zM524.0 865h5v18h-5zM554.0 865h5v11h-5zM560.0 865h5v11h-5zM566.0 865h5v15h-5zM572.0 865h5v27h-5zM578.0 865h5v33h-5zM590.0 865h5v32h-5zM656.0 865h5v2h-5zM662.0 865h5v7h-5zM668.0 865h5v8h-5zM704.0 865h5v3h-5zM710.0 865h5v11h-5zM716.0 865h5v14h-5zM872.0 865h5v2h-5zM878.0 865h5v7h-5zM884.0 865h5v10h-5zM890.0 865h5v10h-5zM896.0 865h5v13h-5zM1004.0 865h5v2h-5zM1010.0 865h5v10h-5zM1016.0 865h5v12h-5zM1022.0 865h5v18h-5zM1034.0 865h5v15h-5zM1040.0 865h5v16h-5zM1046.0 865h5v27h-5zM1052.0 865h5v29h-5zM1058.0 865h5v39h-5zM1064.0 865h5v42h-5z" fill="#ff5252" shape-rendering="crispEdges"/>
<path d="M80.0 865h5v7h-5zM92.0 865h5v2h-5zM122.0 865h5v7h-5zM128.0 865h5v2h-5zM176.0 865h5v3h-5zM194.0 865h5v14h-5zM200.0 865h5v10h-5zM206.0 865h5v3h-5zM212.0 865h5v1h-5zM290.0 865h5v16h-5zM296.0 865h5v6h-5zM332.0 865h5v32h-5zM338.0 865h5v30h-5zM344.0 865h5v23h-5zM350.0 865h5v15h-5zM356.0 865h5v10h-5zM362.0 865h5v5h-5zM404.0 865h5v14h-5zM410.0 865h5v9h-5zM416.0 865h5v3h-5zM530.0 865h5v13h-5zM536.0 865h5v9h-5zM542.0 865h5v9h-5zM548.0 865h5v9h-5zM584.0 865h5v31h-5zM596.0 865h5v30h-5zM602.0 865h5v28h-5zM608.0 865h5v25h-5zM614.0 865h5v19h-5zM620.0 865h5v14h-5zM674.0 865h5v3h-5zM722.0 865h5v13h-5zM728.0 865h5v5h-5zM902.0 865h5v7h-5zM1028.0 865h5v14h-5zM1070.0 865h5v31h-5zM1076.0 865h5v24h-5z" fill="#fccbcd" shape-rendering="crispEdges"/>
<path d="M-3.0 809.0L0.0 808.0L4.5 805.2L10.5 801.3L15.5 801.3L22.5 791.9L28.5 778.1L33.0 779.2L40.6 785.5L45.7 789.1L52.6 783.4L57.0 785.5L64.5 794.7L70.6 800.3L76.5 802.7L81.6 803.5L87.9 809.2L94.5 801.3L100.5 803.8L106.5 808.3L112.5 810.9L118.5 814.4L123.8 813.0L130.5 807.3L136.4 802.4L142.5 801.0L148.5 796.1L154.4 796.4L160.5 792.2L166.5 797.5L172.4 803.1L177.2 803.5L180.0 805.2L184.5 810.2L190.5 819.3L195.5 821.4L201.1 819.7L208.5 813.0L214.6 810.2L220.6 802.4L226.5 795.8L232.0 793.3L238.6 796.8L244.5 802.4L249.9 806.2L256.5 801.4L261.6 801.4L268.5 812.3L274.5 818.6L280.5 829.8L286.5 836.5L292.5 834.1L298.5 825.6L304.5 821.1L310.5 822.1L316.4 832.0L322.5 850.9L328.5 869.2L334.4 877.0L340.5 880.5L346.5 879.1L352.4 874.1L360.0 869.9L364.5 865.7L370.5 861.1L376.6 865.0L382.5 866.4L388.5 875.5L394.6 886.1L400.6 895.5L406.5 891.7L412.6 887.5L418.6 881.9L424.5 873.4L430.6 866.4L436.5 862.9L442.5 857.7L448.5 856.6L454.5 850.9L460.5 841.1L466.5 828.4L472.5 812.3L478.5 800.3L484.5 789.1L490.1 785.1L496.4 789.8L502.5 796.8L508.5 802.4L514.4 809.5L520.5 822.1L526.5 832.4L532.4 829.8L537.2 828.4L540.0 829.1L544.5 830.1L550.5 831.7L556.6 836.2L562.5 839.0L568.5 846.7L574.6 865.0L580.6 878.4L586.5 884.7L592.6 893.1L598.6 898.8L604.5 903.0L610.6 906.1L616.5 904.4L622.5 902.3L628.5 887.5L634.5 879.1L640.5 875.3L645.5 873.9L652.5 881.2L658.5 884.4L664.5 890.0L670.1 892.1L676.4 887.9L682.5 882.6L688.5 880.0L694.4 877.4L700.5 878.8L706.5 886.1L712.4 894.5L718.5 900.2L723.5 902.7L730.5 894.5L736.6 886.1L742.5 877.0L748.5 867.1L754.6 851.6L760.6 839.0L766.5 827.0L772.6 815.8L778.6 803.8L784.5 796.8L790.6 794.3L795.2 795.4L802.5 801.7L808.5 806.2L813.9 810.2L820.5 800.3L826.5 791.9L832.5 785.5L837.4 784.1L844.5 787.2L849.4 787.7L856.4 781.3L861.3 780.2L868.5 784.1L874.4 790.2L880.5 796.1L886.5 801.0L892.4 803.1L897.2 808.3L900.0 807.3L905.6 803.1L910.5 794.7L914.1 784.8L917.8 775.0L922.5 759.5L928.5 724.4L934.6 696.3L940.1 675.2L945.7 673.3L952.6 665.0L957.7 664.6L964.5 677.7L969.9 676.6L976.5 666.7L982.5 654.8L987.9 653.1L994.5 657.6L999.8 660.4L1006.5 673.0L1012.5 681.5L1018.5 687.1L1024.5 696.5L1030.1 695.5L1036.4 700.2L1042.0 704.0L1048.5 721.6L1054.4 730.0L1060.5 748.3L1066.5 762.6L1072.4 759.5L1078.5 758.4" fill="none" stroke="#2196f3" stroke-width="1" stroke-linejoin="round"/>
<path d="M-3.0 848.0L0.0 843.9L4.5 838.3L10.5 831.3L16.6 824.9L22.5 818.6L28.5 810.2L34.6 803.8L40.6 800.3L46.5 797.5L52.6 794.7L58.6 793.3L64.5 793.6L70.6 795.4L76.5 796.8L82.5 798.5L88.5 800.3L94.5 800.6L100.5 801.4L106.5 803.1L112.5 804.8L118.5 806.6L124.5 807.6L130.5 807.3L136.4 806.2L142.5 805.2L148.5 803.5L154.4 802.0L160.5 800.3L166.5 799.9L172.4 800.3L180.0 801.4L184.5 803.1L190.5 806.6L196.6 809.5L202.5 810.9L208.5 811.6L214.6 811.6L220.6 809.5L226.5 806.6L232.6 804.3L238.6 802.7L244.5 802.4L250.6 803.1L256.5 802.8L262.5 802.7L268.5 804.5L274.5 808.0L280.5 812.3L286.5 816.8L292.5 819.7L298.5 820.7L304.5 820.7L310.5 821.0L316.4 823.5L322.5 829.8L328.5 837.6L334.4 845.3L340.5 852.1L346.5 857.3L352.4 860.8L360.0 863.4L364.5 863.6L370.5 863.6L376.6 863.9L382.5 864.7L388.5 867.1L394.6 871.3L400.6 875.5L406.5 878.8L412.6 880.5L418.6 880.7L424.5 879.1L430.6 876.5L436.5 873.4L442.5 870.3L448.5 867.5L454.5 864.3L460.5 859.4L466.5 853.0L472.5 845.3L478.5 836.9L484.5 827.7L490.5 818.6L496.4 812.3L502.5 809.5L508.5 808.3L514.4 808.7L520.5 811.6L526.5 815.8L532.4 818.6L540.0 821.1L544.5 822.4L550.5 824.2L556.6 826.8L562.5 829.1L568.5 832.7L574.6 839.7L580.6 848.1L586.5 855.9L592.6 863.6L598.6 871.3L604.5 877.7L610.6 883.3L616.5 887.5L622.5 889.9L628.5 889.6L634.5 887.5L640.5 885.1L646.5 883.0L652.5 882.6L658.5 883.0L664.5 884.4L670.5 885.7L676.4 886.1L682.5 885.4L688.5 884.3L694.4 883.0L700.5 882.6L706.5 883.3L712.4 885.4L720.0 889.4L724.5 891.0L730.5 891.7L736.6 891.0L742.5 888.2L748.5 884.0L754.6 877.7L760.6 870.6L766.5 862.9L772.6 854.5L778.6 845.3L784.5 835.5L790.6 827.0L796.5 820.7L802.5 816.8L808.5 814.8L814.5 814.0L820.5 811.6L826.5 807.3L832.5 802.4L838.5 798.9L844.5 796.4L850.5 794.4L856.4 791.9L862.5 789.8L868.5 788.6L874.4 788.8L880.5 790.2L886.5 792.2L892.4 794.4L900.0 797.8L905.6 798.6L910.5 797.5L916.6 794.0L922.5 787.0L928.7 775.3L934.6 758.1L940.6 743.4L946.5 730.0L952.6 716.6L958.6 705.4L964.5 700.0L970.6 695.5L976.5 689.9L982.5 682.9L988.5 676.8L994.5 673.0L1000.5 670.5L1006.5 670.7L1012.5 672.6L1018.5 675.9L1024.5 680.4L1030.5 683.6L1036.4 686.7L1042.5 690.2L1048.5 696.3L1054.4 703.3L1060.5 712.4L1066.5 721.6L1072.4 729.3L1078.5 735.6" fill="none" stroke="#ff4081" stroke-width="2.1" stroke-linejoin="round" stroke-linecap="round"/>
</g>
<path d="M0 112.5H1214" stroke="#666" stroke-width="1" stroke-dasharray="1 2" shape-rendering="crispEdges"/>
<g clip-path="url(#ca)">
<text x="1224" y="36.9" fill="#131722" text-anchor="start" font-size="12" textLength="40" lengthAdjust="spacingAndGlyphs">0.73000</text>
<text x="1224" y="80.2" fill="#131722" text-anchor="start" font-size="12" textLength="40" lengthAdjust="spacingAndGlyphs">0.72000</text>
<text x="1224" y="123.5" fill="#131722" text-anchor="start" font-size="12" textLength="40" lengthAdjust="spacingAndGlyphs">0.71000</text>
<text x="1224" y="166.8" fill="#131722" text-anchor="start" font-size="12" textLength="40" lengthAdjust="spacingAndGlyphs">0.70000</text>
<text x="1224" y="210.1" fill="#131722" text-anchor="start" font-size="12" textLength="40" lengthAdjust="spacingAndGlyphs">0.69000</text>
<text x="1224" y="253.4" fill="#131722" text-anchor="start" font-size="12" textLength="40" lengthAdjust="spacingAndGlyphs">0.68000</text>
<text x="1224" y="296.7" fill="#131722" text-anchor="start" font-size="12" textLength="40" lengthAdjust="spacingAndGlyphs">0.67000</text>
<text x="1224" y="340.0" fill="#131722" text-anchor="start" font-size="12" textLength="40" lengthAdjust="spacingAndGlyphs">0.66000</text>
<text x="1224" y="383.3" fill="#131722" text-anchor="start" font-size="12" textLength="40" lengthAdjust="spacingAndGlyphs">0.65000</text>
<text x="1224" y="426.6" fill="#131722" text-anchor="start" font-size="12" textLength="40" lengthAdjust="spacingAndGlyphs">0.64000</text>
<text x="1224" y="469.9" fill="#131722" text-anchor="start" font-size="12" textLength="40" lengthAdjust="spacingAndGlyphs">0.63000</text>
<text x="1224" y="513.2" fill="#131722" text-anchor="start" font-size="12" textLength="40" lengthAdjust="spacingAndGlyphs">0.62000</text>
<text x="1224" y="556.5" fill="#131722" text-anchor="start" font-size="12" textLength="40" lengthAdjust="spacingAndGlyphs">0.61000</text>
<text x="1224" y="599.8" fill="#131722" text-anchor="start" font-size="12" textLength="40" lengthAdjust="spacingAndGlyphs">0.60000</text>
</g>
<g clip-path="url(#cb)">
<text x="1224" y="630.6" fill="#131722" text-anchor="start" font-size="12" textLength="40" lengthAdjust="spacingAndGlyphs">0.01200</text>
<text x="1224" y="670.6" fill="#131722" text-anchor="start" font-size="12" textLength="40" lengthAdjust="spacingAndGlyphs">0.01000</text>
<text x="1224" y="710.6" fill="#131722" text-anchor="start" font-size="12" textLength="40" lengthAdjust="spacingAndGlyphs">0.00800</text>
<text x="1224" y="750.6" fill="#131722" text-anchor="start" font-size="12" textLength="40" lengthAdjust="spacingAndGlyphs">0.00600</text>
<text x="1224" y="790.6" fill="#131722" text-anchor="start" font-size="12" textLength="40" lengthAdjust="spacingAndGlyphs">0.00400</text>
<text x="1224" y="829.6" fill="#131722" text-anchor="start" font-size="12" textLength="40" lengthAdjust="spacingAndGlyphs">0.00200</text>
<text x="1224" y="869.6" fill="#131722" text-anchor="start" font-size="12" textLength="40" lengthAdjust="spacingAndGlyphs">0.00000</text>
<text x="1224" y="909.6" fill="#131722" text-anchor="start" font-size="12" textLength="46" lengthAdjust="spacingAndGlyphs">−0.00200</text>
</g>
<path d="M1214 84.0H1268a2 2 0 0 1 2 2V99.0a2 2 0 0 1 -2 2H1214Z" fill="#2196f3"/>
<text x="1224" y="96.8" fill="#fff" text-anchor="start" font-size="12" textLength="40" lengthAdjust="spacingAndGlyphs">0.71628</text>
<path d="M1214 104.0H1268a2 2 0 0 1 2 2V119.0a2 2 0 0 1 -2 2H1214Z" fill="#808080"/>
<text x="1224" y="116.8" fill="#fff" text-anchor="start" font-size="12" textLength="40" lengthAdjust="spacingAndGlyphs">0.71164</text>
<path d="M1214 121.0H1268a2 2 0 0 1 2 2V136.0a2 2 0 0 1 -2 2H1214Z" fill="#f9b32f"/>
<text x="1224" y="133.8" fill="#000" text-anchor="start" font-size="12" textLength="40" lengthAdjust="spacingAndGlyphs">0.70769</text>
<path d="M1214 138.0H1268a2 2 0 0 1 2 2V153.0a2 2 0 0 1 -2 2H1214Z" fill="#2f9fe6"/>
<text x="1224" y="150.8" fill="#fff" text-anchor="start" font-size="12" textLength="40" lengthAdjust="spacingAndGlyphs">0.70663</text>
<path d="M1214 168.0H1268a2 2 0 0 1 2 2V183.0a2 2 0 0 1 -2 2H1214Z" fill="#2196f3"/>
<text x="1224" y="180.8" fill="#fff" text-anchor="start" font-size="12" textLength="40" lengthAdjust="spacingAndGlyphs">0.69698</text>
<path d="M1214 205.0H1268a2 2 0 0 1 2 2V220.0a2 2 0 0 1 -2 2H1214Z" fill="#e0780a"/>
<text x="1224" y="217.8" fill="#fff" text-anchor="start" font-size="12" textLength="40" lengthAdjust="spacingAndGlyphs">0.68830</text>
<path d="M1214 728.0H1268a2 2 0 0 1 2 2V743.0a2 2 0 0 1 -2 2H1214Z" fill="#ff4081"/>
<text x="1224" y="740.8" fill="#fff" text-anchor="start" font-size="12" textLength="40" lengthAdjust="spacingAndGlyphs">0.00651</text>
<path d="M1214 751.0H1268a2 2 0 0 1 2 2V766.0a2 2 0 0 1 -2 2H1214Z" fill="#2196f3"/>
<text x="1224" y="763.8" fill="#fff" text-anchor="start" font-size="12" textLength="40" lengthAdjust="spacingAndGlyphs">0.00536</text>
<path d="M1214 880.0H1274a2 2 0 0 1 2 2V895.0a2 2 0 0 1 -2 2H1214Z" fill="#ffcdd2"/>
<text x="1224" y="892.8" fill="#131722" text-anchor="start" font-size="12" textLength="46" lengthAdjust="spacingAndGlyphs">−0.00116</text>
<text x="22.5" y="950" text-anchor="middle" font-size="12">May</text>
<text x="124.5" y="950" text-anchor="middle" font-size="12">Jun</text>
<text x="226.5" y="950" text-anchor="middle" font-size="12">Jul</text>
<text x="340.5" y="950" text-anchor="middle" font-size="12">Aug</text>
<text x="436.5" y="950" text-anchor="middle" font-size="12">Sep</text>
<text x="544.5" y="950" text-anchor="middle" font-size="12">Oct</text>
<text x="652.5" y="950" text-anchor="middle" font-size="12">Nov</text>
<text x="748.5" y="950" text-anchor="middle" font-size="12">Dec</text>
<text x="850.5" y="950" text-anchor="middle" font-weight="bold" font-size="12">2026</text>
<text x="952.5" y="950" text-anchor="middle" font-size="12">Feb</text>
<text x="1048.5" y="950" text-anchor="middle" font-size="12">Mar</text>
<text x="1174.5" y="950" text-anchor="middle" font-size="12">Apr</text>
<circle cx="1247.5" cy="946.5" r="5.4" fill="none" stroke="#131722" stroke-width="1.2"/><path d="M1253.50 946.50L1255.00 946.50M1251.74 950.74L1252.80 951.80M1247.50 952.50L1247.50 954.00M1243.26 950.74L1242.20 951.80M1241.50 946.50L1240.00 946.50M1243.26 942.26L1242.20 941.20M1247.50 940.50L1247.50 939.00M1251.74 942.26L1252.80 941.20" stroke="#131722" stroke-width="1.2" fill="none"/>
<text x="10" y="20" font-weight="bold" font-size="12" textLength="151.2" lengthAdjust="spacingAndGlyphs">AUDUSD 1D - 1uptick.com</text>
<rect x="4" y="33" width="220" height="24" fill="#fff" fill-opacity="0.7"/><rect x="4" y="57" width="187" height="48" fill="#fff" fill-opacity="0.7"/><rect x="4" y="631" width="296" height="24" fill="#fff" fill-opacity="0.7"/>
<text x="9" y="45" fill="#131722" font-size="12.5" textLength="14" lengthAdjust="spacingAndGlyphs">BB</text>
<text x="28" y="45" fill="#5d606b" font-size="12.5" textLength="25" lengthAdjust="spacingAndGlyphs">20 2</text>
<text x="67" y="45" fill="#2f9fe6" font-size="12.5" textLength="46.5" lengthAdjust="spacingAndGlyphs">0.70663</text>
<text x="120" y="45" fill="#2196f3" font-size="12.5" textLength="46.5" lengthAdjust="spacingAndGlyphs">0.71628</text>
<text x="173" y="45" fill="#2196f3" font-size="12.5" textLength="46.5" lengthAdjust="spacingAndGlyphs">0.69698</text>
<text x="9" y="69" fill="#131722" font-size="12.5" textLength="16" lengthAdjust="spacingAndGlyphs">MA</text>
<text x="30.3" y="69" fill="#5d606b" font-size="12.5" textLength="94" lengthAdjust="spacingAndGlyphs">10 close 0 SMA 9</text>
<text x="139" y="69" fill="#f9b32f" font-size="12.5" textLength="46.5" lengthAdjust="spacingAndGlyphs">0.70769</text>
<text x="9" y="93" fill="#131722" font-size="12.5" textLength="16" lengthAdjust="spacingAndGlyphs">MA</text>
<text x="30.3" y="93" fill="#5d606b" font-size="12.5" textLength="94" lengthAdjust="spacingAndGlyphs">50 close 0 SMA 9</text>
<text x="139" y="93" fill="#e0780a" font-size="12.5" textLength="46.5" lengthAdjust="spacingAndGlyphs">0.68830</text>
<text x="9" y="643" fill="#131722" font-size="12.5" textLength="33" lengthAdjust="spacingAndGlyphs">MACD</text>
<text x="46" y="643" fill="#5d606b" font-size="12.5" textLength="76" lengthAdjust="spacingAndGlyphs">12 26 close 9</text>
<text x="136" y="643" fill="#ffcdd2" font-size="12.5" textLength="53" lengthAdjust="spacingAndGlyphs">−0.00116</text>
<text x="196" y="643" fill="#2196f3" font-size="12.5" textLength="46" lengthAdjust="spacingAndGlyphs">0.00536</text>
<text x="249" y="643" fill="#ff4081" font-size="12.5" textLength="46" lengthAdjust="spacingAndGlyphs">0.00651</text>
<rect x="9.5" y="102.5" width="28" height="20" rx="3" fill="#fff" fill-opacity="0.9" stroke="#d3d6de"/>
<path d="M19.4 114.5l4.1-3.9 4.1 3.9" fill="none" stroke="#131722" stroke-width="1.4"/>
<circle cx="23.5" cy="910" r="16.5" fill="#fff" stroke="#e9e9ea" stroke-width="1"/>
<path d="M12.9 905.2H21.8V915.9H18.05V908.9H12.9ZM28.8 905.2H34.2L30 915.9H25.1Z" fill="#131722"/><circle cx="25" cy="906.9" r="1.95" fill="#131722"/>
</svg>
</body></html>
